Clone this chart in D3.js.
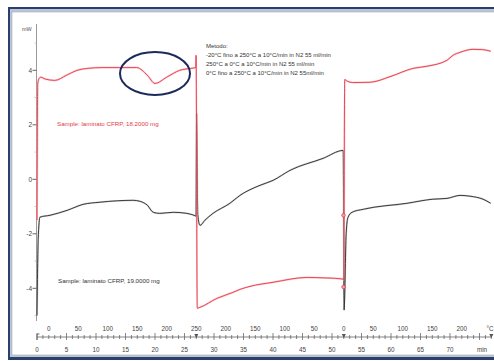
<!DOCTYPE html>
<html>
<head>
<meta charset="utf-8">
<script src="https://cdn.jsdelivr.net/npm/d3@7"></script>
<style>
  html, body { margin: 0; padding: 0; background: #fff; }
  svg { display: block; }
  text { font-family: "Liberation Sans", Arial, sans-serif; }
</style>
</head>
<body>
<div id="chart"></div>
<script>
// DSC thermogram, laminato CFRP: heat / cool / heat at 10 °C/min in N2

// Temperature program: time (min) at each turning point and the temperature there (°C)
const programTimes = [0, 27, 52, 77];
const programTemps = [-20, 250, 0, 250];

// Temperature labels on the upper axis, one list per program segment
const tempLabelsSeg1 = [0, 50, 100, 150, 200, 250];
const tempLabelsSeg2 = [200, 150, 100, 50, 0];
const tempLabelsSeg3 = [50, 100, 150, 200];

// Time axis labels (min)
const timeLabels = [0, 5, 10, 15, 20, 25, 30, 35, 40, 45, 50, 55, 60, 65, 70];

// Heat flow axis
const mwLabels = [-4, -2, 0, 2, 4];
const mwMinor = [-5, -3, -1, 1, 3, 5];

// Sample 18.2000 mg (red): time (min) and heat flow (mW)
const redTime = [0, 0.12, 0.35, 0.63, 1.4, 3.0, 5.0, 6.8, 8.5, 11, 14, 16.9, 18.7, 20.0, 22.0, 24.2, 26.0, 26.9,
  26.97, 27.15, 27.6, 30.5, 33.2, 34.4, 36.1, 40.0, 45.8, 49.0, 51.9,
  52.0, 52.15, 52.6, 53.5, 56.4, 60.0, 63.7, 66.1, 69.5, 70.5, 71.7, 73.9, 75.5, 76.9];
const redMW = [-1.5, 3.5, 3.7, 3.75, 3.68, 3.63, 3.82, 4.0, 4.07, 4.1, 4.1, 4.1, 3.82, 3.52, 3.75, 4.0, 4.07, 4.1,
  4.55, -4.73, -4.7, -4.37, -4.15, -4.04, -3.93, -3.78, -3.6, -3.62, -3.66,
  -3.7, 3.66, 3.6, 3.55, 3.56, 3.78, 4.07, 4.15, 4.37, 4.55, 4.66, 4.77, 4.76, 4.7];

// Sample 19.0000 mg (black): time (min) and heat flow (mW)
const blackTime = [0, 0.2, 0.5, 2.2, 5.1, 7.8, 10.7, 16.3, 17.5, 18.7, 19.7, 20.8, 23.1, 25.4, 26.6, 26.95,
  27.05, 27.25, 27.63, 28.47, 29.83, 32.7, 34.4, 37.8, 40.0, 42.9, 48.5, 51.9,
  52.05, 52.4, 52.7, 53.4, 55.3, 62.7, 67.1, 69.5, 71.7, 73.4, 75.6, 76.9];
const blackMW = [-5.0, -2.2, -1.39, -1.32, -1.14, -0.92, -0.84, -0.77, -0.81, -0.95, -1.21, -1.25, -1.21, -1.25, -1.32, -1.35,
  2.42, -1.3, -1.69, -1.5, -1.25, -0.88, -0.59, -0.22, -0.04, 0.33, 0.77, 1.06,
  -4.8, -2.0, -1.4, -1.21, -1.1, -0.88, -0.73, -0.7, -0.59, -0.62, -0.73, -0.88];

// Event marks on the red trace at the start of the second heating
const markTime = [51.95, 51.95];
const markMW = [-1.32, -3.95];

// Method text
const methodLines = [
  "Metodo:",
  "-20°C fino a 250°C a 10°C/min in N2 55 ml/min",
  "250°C a 0°C a 10°C/min in N2 55 ml/min",
  "0°C fino a 250°C a 10°C/min in N2 55ml/min"
];
const redLabel = "Sample: laminato CFRP, 18.2000 mg";
const blackLabel = "Sample: laminato CFRP, 19.0000 mg";

const W = 494, H = 361;
const svg = d3.select("#chart").append("svg").attr("width", W).attr("height", H);

// window frame
svg.append("rect").attr("x", 8).attr("y", 7).attr("width", 500).attr("height", 353).attr("fill", "#2c3f6c");
svg.append("rect").attr("x", 10).attr("y", 9).attr("width", 496).attr("height", 348).attr("fill", "#b9c6da");
svg.append("rect").attr("x", 12).attr("y", 12).attr("width", 492).attr("height", 343).attr("fill", "#ffffff")
  .attr("stroke", "#a9a9a9").attr("stroke-width", 0.6);

const x = d3.scaleLinear().domain([0, 77]).range([37, 491.3]);
const y = d3.scaleLinear().domain([-5.2, 5.7]).range([321, 24]);

// y axis
const axisColor = "#9a9a9a";
svg.append("line").attr("x1", 36.5).attr("x2", 36.5).attr("y1", y(5.7)).attr("y2", y(-5.2))
  .attr("stroke", axisColor).attr("stroke-width", 1);
svg.append("text").attr("x", 22).attr("y", 30.5).attr("font-size", 5.5).attr("fill", "#555").text("mW");

const yMajor = svg.append("g");
yMajor.selectAll("line").data(mwLabels).join("line")
  .attr("x1", 32.5).attr("x2", 36.5).attr("y1", d => y(d)).attr("y2", d => y(d))
  .attr("stroke", "#555").attr("stroke-width", 0.9);
yMajor.selectAll("text").data(mwLabels).join("text")
  .attr("x", 32).attr("y", d => y(d) + 2.3).attr("text-anchor", "end")
  .attr("font-size", 6.5).attr("fill", "#444").text(d => d);
svg.append("g").selectAll("line").data(mwMinor).join("line")
  .attr("x1", 34.5).attr("x2", 36.5).attr("y1", d => y(d)).attr("y2", d => y(d))
  .attr("stroke", "#bbb").attr("stroke-width", 0.8);

// time / temperature axis
const axisY = 337;
svg.append("line").attr("x1", x(0)).attr("x2", x(77)).attr("y1", axisY).attr("y2", axisY)
  .attr("stroke", "#666").attr("stroke-width", 0.8);
const minuteTicks = d3.range(0, 78);
svg.append("g").selectAll("line").data(minuteTicks).join("line")
  .attr("x1", d => x(d)).attr("x2", d => x(d))
  .attr("y1", d => d % 5 === 0 ? axisY - 4 : axisY - 2)
  .attr("y2", d => d % 5 === 0 ? axisY + 3 : axisY + 2)
  .attr("stroke", "#555").attr("stroke-width", 0.7);
svg.append("g").selectAll("text").data(timeLabels).join("text")
  .attr("x", d => x(d)).attr("y", 351.5).attr("text-anchor", "middle")
  .attr("font-size", 6.3).attr("fill", "#444").text(d => d);
svg.append("text").attr("x", 482).attr("y", 351.5).attr("text-anchor", "middle")
  .attr("font-size", 6.3).attr("fill", "#444").text("min");

// time at which each program segment reaches a temperature
function segTime(i) {
  return d3.scaleLinear().domain([programTemps[i], programTemps[i + 1]]).range([programTimes[i], programTimes[i + 1]]);
}
const tempTicks = [
  ...tempLabelsSeg1.map(T => ({ T, t: segTime(0)(T) })),
  ...tempLabelsSeg2.map(T => ({ T, t: segTime(1)(T) })),
  ...tempLabelsSeg3.map(T => ({ T, t: segTime(2)(T) }))
];
svg.append("g").selectAll("text").data(tempTicks).join("text")
  .attr("x", d => x(d.t)).attr("y", 330.5).attr("text-anchor", "middle")
  .attr("font-size", 6.3).attr("fill", "#444").text(d => d.T);
svg.append("text").attr("x", 490).attr("y", 330.5).attr("text-anchor", "middle")
  .attr("font-size", 6.3).attr("fill", "#444").text("°C");

// segment turning points on the axis
const turnTimes = programTimes.slice(1);
svg.append("g").selectAll("path").data(turnTimes).join("path")
  .attr("d", d => `M${x(d) - 2},${axisY - 3}L${x(d) + 2},${axisY - 3}L${x(d)},${axisY + 1}Z`)
  .attr("fill", "#555");
svg.append("path").attr("d", `M${x(0)},${axisY + 3}V${axisY - 3}H${x(0) + 2.5}`)
  .attr("fill", "none").attr("stroke", "#555").attr("stroke-width", 0.8);

// curves
const line = d3.line().x(d => x(d[0])).y(d => y(d[1])).curve(d3.curveMonotoneX);
const blackPts = blackTime.map((t, i) => [t, blackMW[i]]);
const redPts = redTime.map((t, i) => [t, redMW[i]]);

svg.append("path").attr("d", line(blackPts)).attr("fill", "none")
  .attr("stroke", "#9a9a9a").attr("stroke-width", 1.8).attr("stroke-opacity", 0.45);
svg.append("path").attr("d", line(blackPts)).attr("fill", "none")
  .attr("stroke", "#2a2a2a").attr("stroke-width", 0.9).attr("stroke-linejoin", "round");

svg.append("path").attr("d", line(redPts)).attr("fill", "none")
  .attr("stroke", "#f6a9b3").attr("stroke-width", 2).attr("stroke-opacity", 0.6);
svg.append("path").attr("d", line(redPts)).attr("fill", "none")
  .attr("stroke", "#e63a46").attr("stroke-width", 0.9).attr("stroke-linejoin", "round");

svg.append("g").selectAll("circle").data(markTime.map((t, i) => [t, markMW[i]])).join("circle")
  .attr("cx", d => x(d[0])).attr("cy", d => y(d[1])).attr("r", 1.8)
  .attr("fill", "#f3a0a8").attr("stroke", "#e63a46").attr("stroke-width", 0.7);

// annotation around the first-heating endotherm
svg.append("ellipse").attr("cx", 155).attr("cy", 73.5).attr("rx", 35).attr("ry", 21.5)
  .attr("fill", "none").attr("stroke", "#1c2a5c").attr("stroke-width", 2);

// labels
svg.append("g").selectAll("text").data(methodLines).join("text")
  .attr("x", 206).attr("y", (d, i) => 48 + i * 9).attr("font-size", 6)
  .attr("fill", "#333").text(d => d);
svg.append("text").attr("x", 57).attr("y", 125.5).attr("font-size", 6.2)
  .attr("fill", "#e63a46").text(redLabel);
svg.append("text").attr("x", 58).attr("y", 282.5).attr("font-size", 6.2)
  .attr("fill", "#333").text(blackLabel);
</script>
</body>
</html>
